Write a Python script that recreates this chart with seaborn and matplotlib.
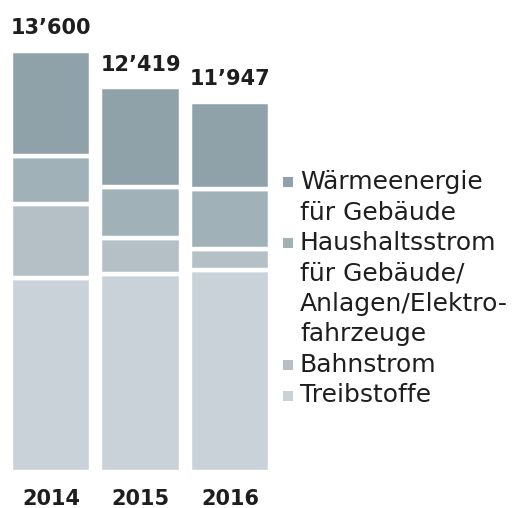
import seaborn as sns
import matplotlib.pyplot as plt
from matplotlib.patches import Rectangle
import numpy as np

# Daten (Stapel von unten nach oben)
years = ["2014", "2015", "2016"]
totals = [13600, 12419, 11947]
total_labels = ["13\u2019600", "12\u2019419", "11\u2019947"]

treibstoffe = [6280, 6400, 6526]
bahnstrom = [2364, 1166, 670]
haushaltsstrom = [1549, 1650, 1931]
waermeenergie = [3407, 3203, 2820]

series = [treibstoffe, bahnstrom, haushaltsstrom, waermeenergie]
colors = ["#c9d2d8", "#b4c0c5", "#a1b1b8", "#8fa1a9"]

legend_labels = [
    ["Wärmeenergie", "für Gebäude"],
    ["Haushaltsstrom", "für Gebäude/", "Anlagen/Elektro-", "fahrzeuge"],
    ["Bahnstrom"],
    ["Treibstoffe"],
]
legend_colors = ["#8fa1a9", "#a1b1b8", "#b4c0c5", "#c9d2d8"]

sns.set_style("white")
plt.rcParams["font.family"] = ["DejaVu Sans"]
text_color = "#1e1e1e"

W, H = 521, 508
fig = plt.figure(figsize=(W / 100, H / 100), dpi=100)
ax = fig.add_axes([6.3 / W, 35.8 / H, 268.5 / W, 421.4 / H])

bottom = np.zeros(len(years))
for vals, c in zip(series, colors):
    sns.barplot(x=years, y=vals, bottom=bottom, color=c, saturation=1,
                width=0.9, edgecolor="white", linewidth=3.2, ax=ax)
    bottom = bottom + np.array(vals)

ax.set_xlim(-0.5, 2.5)
ax.set_ylim(0, 13600)
sns.despine(ax=ax, left=True, bottom=True)
ax.set_yticks([])
ax.set_ylabel("")
ax.tick_params(axis="x", length=0, pad=12)
for lab in ax.get_xticklabels():
    lab.set_fontweight("bold")
    lab.set_fontsize(15)
    lab.set_color(text_color)

for i, (t, lab) in enumerate(zip(totals, total_labels)):
    ax.annotate(lab, (i, t), xytext=(0, 12), textcoords="offset points",
                ha="center", va="baseline", fontsize=15, fontweight="bold",
                color=text_color, annotation_clip=False)

# Legende
y = 182
step = 30.5
for lines, c in zip(legend_labels, legend_colors):
    fig.patches.append(Rectangle((283 / W, (H - y - 5) / H), 10 / W, 10 / H,
                                 transform=fig.transFigure, facecolor=c,
                                 edgecolor="none"))
    for line in lines:
        fig.text(300 / W, (H - y) / H, line, ha="left", va="center",
                 fontsize=18, color=text_color)
        y += step

fig.savefig("out.png", dpi=100)
